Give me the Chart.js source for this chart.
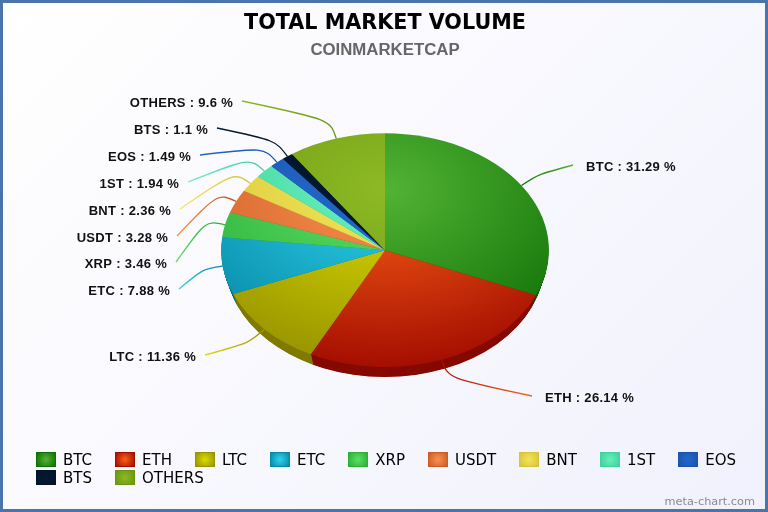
<!DOCTYPE html>
<html>
<head>
<meta charset="utf-8">
<title>Total Market Volume</title>
<script src="https://cdn.jsdelivr.net/npm/chart.js@4"></script>
<style>
  html, body { margin: 0; padding: 0; }
  #page {
    position: relative; width: 768px; height: 512px; overflow: hidden;
    background: linear-gradient(135deg, #ffffff 0%, #f1f1fd 100%);
  }
  #page:after {
    content: ''; position: absolute; left: 0; top: 0; right: 0; bottom: 0;
    border: 3px solid #4a74ac; pointer-events: none;
  }
  canvas { position: absolute; left: 0; top: 0; }
  #legend {
    position: absolute; left: 36px; top: 452px; width: 720px;
    display: flex; flex-wrap: wrap; column-gap: 23px; row-gap: 3px;
    font: 15px "DejaVu Sans", sans-serif; color: #000;
  }
  .item { display: flex; align-items: center; height: 15px; }
  .swatch { width: 18px; height: 13px; margin-right: 7px; border: 1px solid; }
</style>
</head>
<body>
<div id="page">
  <canvas id="market-volume-chart" width="768" height="512"></canvas>
  <div id="legend"></div>
</div>
<script>
// Values
const categories = ['BTC', 'ETH', 'LTC', 'ETC', 'XRP', 'USDT', 'BNT', '1ST', 'EOS', 'BTS', 'OTHERS'];
const shares = [31.29, 26.14, 11.36, 7.88, 3.46, 3.28, 2.36, 1.94, 1.49, 1.1, 9.6];

// Colours: centre of the slice, outer part of the slice, side of the pie
const lightColors = ['#52b434', '#fa6018', '#dcdc00', '#2cd4ec', '#5ce066', '#fa9250', '#f2e658', '#66f0bc', '#2468cc', '#031a32', '#8cba24'];
const darkColors = ['#0f7006', '#a40e00', '#989400', '#0888a6', '#2cae38', '#cc5c26', '#d6c43a', '#42d09c', '#1a54ac', '#02142a', '#6a9412'];
const sideColors = ['#0c5a04', '#860a00', '#807a00', '#067088', '#1f8a2a', '#a84a1c', '#a89a20', '#2ea87c', '#123f88', '#010c18', '#4e7008'];

// Outer end of each leader line
const labelAnchors = [[573, 165], [532, 396], [205, 355], [179, 289], [176, 262], [177, 236], [180, 209], [188, 182], [200, 155], [217, 128], [242, 101]];

const squash = 0.713;

function sliceFill(context) {
  const area = context.chart.chartArea;
  if (!area) return lightColors[context.dataIndex];
  const cx = (area.left + area.right) / 2;
  const cy = (area.top + area.bottom) / 2;
  const g = context.chart.ctx.createRadialGradient(cx, cy - 85, 0, cx, cy - 85, 250);
  g.addColorStop(0, lightColors[context.dataIndex]);
  g.addColorStop(1, darkColors[context.dataIndex]);
  return g;
}

// The library draws a round pie, so squash it and give it a side
const tiltPlugin = {
  id: 'tilt',
  beforeDatasetsDraw(chart) {
    const ctx = chart.ctx;
    const arcs = chart.getDatasetMeta(0).data;
    const cx = arcs[0].x;
    const cy = arcs[0].y;
    // the lower rim is a little narrower, so the side thins out towards the edges
    for (let t = 1; t > 0; t -= 0.05) {
      arcs.forEach(function(arc, i) {
        ctx.save();
        ctx.translate(cx, cy + 13.5 * t);
        ctx.scale(1, squash);
        ctx.beginPath();
        ctx.moveTo(0, 0);
        ctx.arc(0, 0, arc.outerRadius * (1 - 0.03 * t), arc.startAngle, arc.endAngle);
        ctx.closePath();
        ctx.fillStyle = sideColors[i];
        ctx.fill();
        ctx.restore();
      });
    }
    ctx.save();
    ctx.translate(cx, cy);
    ctx.scale(1, squash);
    ctx.translate(-cx, -cy);
  },
  afterDatasetsDraw(chart) {
    const ctx = chart.ctx;
    ctx.restore();

    // Leader lines and labels
    chart.getDatasetMeta(0).data.forEach(function(arc, i) {
      const mid = (arc.startAngle + arc.endAngle) / 2;
      const ux = Math.cos(mid);
      const uy = Math.sin(mid);
      const px = arc.x + arc.outerRadius * ux;
      const py = arc.y + arc.outerRadius * squash * uy;
      const kx = px + 20 * ux;
      const ky = py + 20 * uy;
      const end = labelAnchors[i];
      const line = ctx.createLinearGradient(px, py, end[0], end[1]);
      line.addColorStop(0, darkColors[i]);
      line.addColorStop(1, lightColors[i]);
      ctx.beginPath();
      ctx.moveTo(px, py);
      ctx.bezierCurveTo(kx, ky, kx, ky, end[0], end[1]);
      ctx.strokeStyle = line;
      ctx.lineWidth = 1.3;
      ctx.stroke();

      const onRight = end[0] > arc.x;
      ctx.font = 'bold 13px "Liberation Sans", sans-serif';
      ctx.letterSpacing = '0.3px';
      ctx.fillStyle = '#111';
      ctx.textBaseline = 'middle';
      ctx.textAlign = onRight ? 'left' : 'right';
      ctx.fillText(categories[i] + ' : ' + shares[i] + ' %', end[0] + (onRight ? 13 : -9), end[1] + 2);
      ctx.letterSpacing = '0px';
    });

    // Credit line
    ctx.font = '11.3px "DejaVu Sans", sans-serif';
    ctx.fillStyle = '#8a8a8a';
    ctx.textAlign = 'right';
    ctx.textBaseline = 'middle';
    ctx.fillText('meta-chart.com', 755, 502);
  }
};

document.addEventListener('DOMContentLoaded', function() {
  const ctx = document.getElementById('market-volume-chart').getContext('2d');

  new Chart(ctx, {
    type: 'pie',
    data: {
      labels: categories,
      datasets: [{
        data: shares,
        backgroundColor: sliceFill,
        borderWidth: 0
      }]
    },
    options: {
      responsive: false,
      animation: false,
      events: [],
      layout: { padding: { left: 2, bottom: 98 } },
      plugins: {
        legend: { display: false },
        tooltip: { enabled: false },
        title: {
          display: true,
          text: 'TOTAL MARKET VOLUME',
          color: '#000',
          font: { family: '"DejaVu Sans"', size: 20.7, weight: 'bold' },
          padding: { top: 11, bottom: 1 }
        },
        subtitle: {
          display: true,
          text: 'COINMARKETCAP',
          color: '#666',
          font: { family: '"Liberation Sans"', size: 16.8, weight: 'bold' },
          padding: { top: 3, bottom: 26.3 }
        }
      }
    },
    plugins: [tiltPlugin]
  });

  // Legend with two rows that sit closer than the library's own padding allows
  const legend = document.getElementById('legend');
  categories.forEach(function(name, i) {
    const item = document.createElement('div');
    item.className = 'item';
    const swatch = document.createElement('span');
    swatch.className = 'swatch';
    swatch.style.background = 'radial-gradient(circle, ' + lightColors[i] + ', ' + darkColors[i] + ')';
    swatch.style.borderColor = darkColors[i];
    item.appendChild(swatch);
    item.appendChild(document.createTextNode(name));
    legend.appendChild(item);
  });
});
</script>
</body>
</html>
